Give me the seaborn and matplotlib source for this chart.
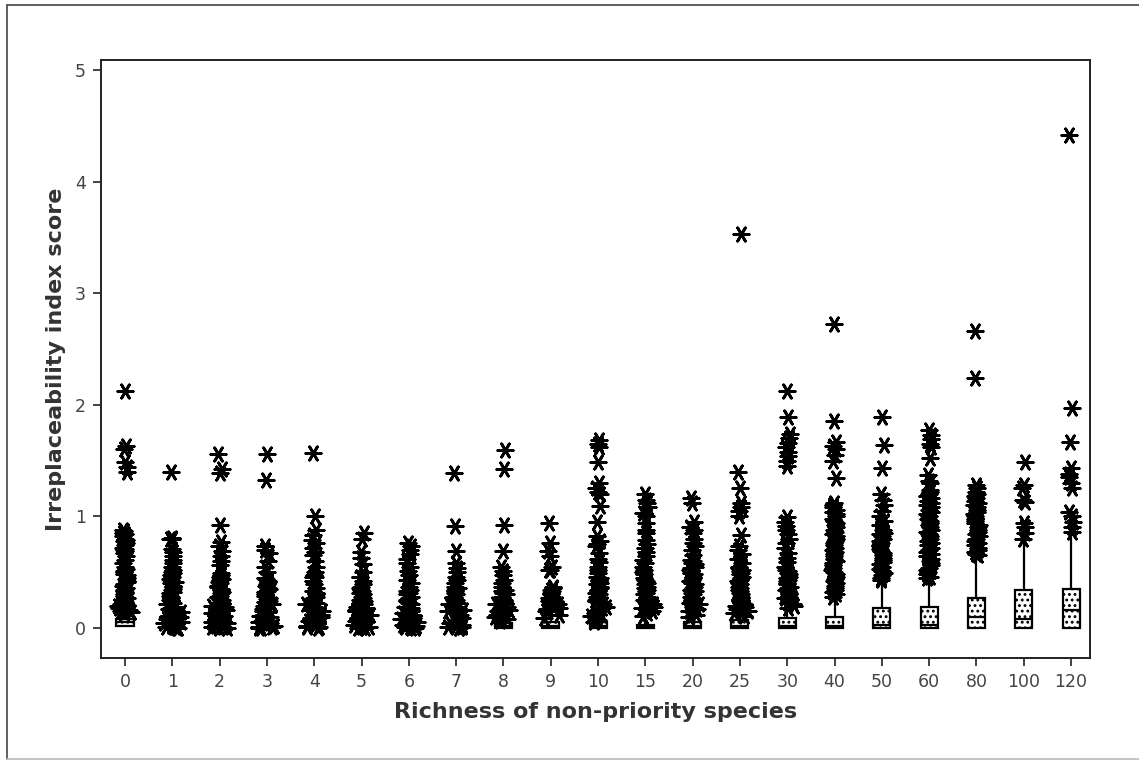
import numpy as np
import pandas as pd
import seaborn as sns
import matplotlib.pyplot as plt
from matplotlib.lines import Line2D

# categories on the x axis
richness = ['0', '1', '2', '3', '4', '5', '6', '7', '8', '9', '10',
            '15', '20', '25', '30', '40', '50', '60', '80', '100', '120']

# box statistics (whisker low, Q1, median, Q3, whisker high)
box_low = [0.02, 0, 0, 0, 0, 0, 0, 0, 0, 0, 0, 0, 0, 0, 0, 0, 0, 0, 0, 0, 0]
box_q1 = [0.02, 0, 0, 0, 0, 0, 0, 0, 0, 0, 0, 0, 0, 0, 0, 0, 0, 0, 0, 0, 0]
box_med = [0.05, 0.01, 0.01, 0.01, 0.01, 0.01, 0.01, 0.01, 0.02, 0.02, 0.02,
           0.01, 0.02, 0.02, 0.02, 0.02, 0.03, 0.03, 0.10, 0.08, 0.16]
box_q3 = [0.08, 0.03, 0.03, 0.03, 0.03, 0.03, 0.03, 0.03, 0.04, 0.05, 0.05,
          0.03, 0.05, 0.07, 0.09, 0.10, 0.18, 0.19, 0.27, 0.34, 0.35]
box_high = [0.10, 0.05, 0.05, 0.05, 0.05, 0.05, 0.05, 0.05, 0.06, 0.08, 0.10,
            0.08, 0.10, 0.15, 0.18, 0.25, 0.40, 0.43, 0.64, 0.77, 0.85]

# outliers (asterisks) per richness class
out_0 = [2.12, 1.63, 1.60, 1.49, 1.44, 1.40, 0.88, 0.87, 0.85, 0.84, 0.82, 0.80, 0.79,
         0.78, 0.76, 0.74, 0.72, 0.71, 0.70, 0.69, 0.67, 0.64, 0.61, 0.58, 0.55, 0.53,
         0.51, 0.50, 0.48, 0.47, 0.45, 0.44, 0.42, 0.41, 0.39, 0.38, 0.36, 0.35, 0.34,
         0.33, 0.32, 0.31, 0.30, 0.29, 0.28, 0.27, 0.26, 0.25, 0.24, 0.23, 0.22, 0.21,
         0.20, 0.19, 0.18, 0.17, 0.16, 0.15, 0.14, 0.13]
out_1 = [1.40, 0.81, 0.80, 0.80, 0.71, 0.68, 0.64, 0.61, 0.58, 0.55, 0.52, 0.50, 0.49,
         0.47, 0.46, 0.44, 0.43, 0.41, 0.40, 0.38, 0.37, 0.35, 0.34, 0.32, 0.31, 0.29,
         0.28, 0.27, 0.25, 0.24, 0.22, 0.21, 0.19, 0.18, 0.17, 0.15, 0.14, 0.12, 0.11,
         0.10, 0.08, 0.07, 0.06, 0.05, 0.04, 0.03, 0.02, 0.01, 0.01, 0.0, 0.0]
out_2 = [1.56, 1.42, 1.39, 0.92, 0.77, 0.73, 0.69, 0.64, 0.60, 0.56, 0.49, 0.47, 0.46,
         0.44, 0.43, 0.41, 0.40, 0.38, 0.37, 0.35, 0.34, 0.32, 0.31, 0.29, 0.28, 0.26,
         0.25, 0.23, 0.22, 0.20, 0.19, 0.17, 0.16, 0.14, 0.13, 0.11, 0.10, 0.09, 0.07,
         0.06, 0.05, 0.04, 0.03, 0.02, 0.01, 0.01, 0.0, 0.0]
out_3 = [1.56, 1.33, 0.73, 0.70, 0.67, 0.60, 0.55, 0.50, 0.45, 0.44, 0.42, 0.41, 0.39,
         0.38, 0.36, 0.35, 0.33, 0.32, 0.30, 0.29, 0.27, 0.26, 0.24, 0.23, 0.21, 0.20,
         0.18, 0.17, 0.15, 0.14, 0.12, 0.11, 0.10, 0.08, 0.07, 0.06, 0.05, 0.04, 0.03,
         0.02, 0.01, 0.01, 0.0, 0.0]
out_4 = [1.57, 1.00, 0.88, 0.83, 0.79, 0.76, 0.72, 0.68, 0.65, 0.60, 0.55, 0.50, 0.47,
         0.46, 0.46, 0.42, 0.39, 0.36, 0.33, 0.31, 0.30, 0.28, 0.27, 0.25, 0.24, 0.22,
         0.21, 0.19, 0.18, 0.16, 0.15, 0.13, 0.12, 0.10, 0.09, 0.08, 0.06, 0.05, 0.04,
         0.03, 0.02, 0.01, 0.01, 0.0]
out_5 = [0.85, 0.80, 0.68, 0.63, 0.57, 0.50, 0.46, 0.46, 0.42, 0.39, 0.37, 0.36, 0.34,
         0.33, 0.31, 0.30, 0.28, 0.27, 0.25, 0.24, 0.22, 0.21, 0.19, 0.18, 0.16, 0.16,
         0.15, 0.13, 0.12, 0.10, 0.09, 0.08, 0.06, 0.05, 0.04, 0.03, 0.02, 0.01, 0.01,
         0.0, 0.0]
out_6 = [0.76, 0.73, 0.70, 0.66, 0.62, 0.58, 0.55, 0.51, 0.47, 0.43, 0.40, 0.37, 0.34,
         0.33, 0.31, 0.30, 0.28, 0.27, 0.25, 0.24, 0.22, 0.21, 0.19, 0.18, 0.16, 0.15,
         0.13, 0.12, 0.10, 0.09, 0.08, 0.06, 0.05, 0.04, 0.03, 0.02, 0.01, 0.01, 0.0, 0.0]
out_7 = [1.39, 0.91, 0.69, 0.58, 0.54, 0.50, 0.46, 0.43, 0.40, 0.37, 0.36, 0.34, 0.33,
         0.31, 0.30, 0.28, 0.27, 0.25, 0.24, 0.22, 0.21, 0.19, 0.18, 0.16, 0.15, 0.13,
         0.12, 0.10, 0.09, 0.08, 0.06, 0.05, 0.04, 0.03, 0.02, 0.01, 0.01, 0.0, 0.0]
out_8 = [1.59, 1.42, 0.92, 0.69, 0.55, 0.51, 0.47, 0.43, 0.40, 0.37, 0.34, 0.33, 0.31,
         0.30, 0.28, 0.27, 0.25, 0.24, 0.22, 0.21, 0.19, 0.18, 0.16, 0.15, 0.13, 0.12,
         0.10, 0.09, 0.08, 0.07, 0.06]
out_9 = [0.94, 0.76, 0.69, 0.64, 0.55, 0.52, 0.52, 0.37, 0.36, 0.34, 0.33, 0.31, 0.30,
         0.28, 0.27, 0.25, 0.24, 0.22, 0.21, 0.20, 0.18, 0.17, 0.15, 0.12, 0.09]
out_10 = [1.68, 1.65, 1.62, 1.49, 1.30, 1.25, 1.22, 1.20, 1.09, 0.95, 0.82, 0.78, 0.75,
          0.73, 0.67, 0.62, 0.59, 0.55, 0.52, 0.49, 0.46, 0.45, 0.43, 0.42, 0.40, 0.39,
          0.37, 0.36, 0.34, 0.33, 0.31, 0.30, 0.28, 0.27, 0.25, 0.24, 0.22, 0.21, 0.19,
          0.18, 0.17, 0.15, 0.13, 0.11, 0.09, 0.07, 0.05]
out_15 = [1.20, 1.15, 1.12, 1.08, 1.03, 1.00, 0.94, 0.88, 0.85, 0.79, 0.75, 0.72, 0.68,
          0.64, 0.61, 0.58, 0.55, 0.52, 0.50, 0.48, 0.45, 0.43, 0.42, 0.40, 0.39, 0.37,
          0.36, 0.34, 0.33, 0.31, 0.30, 0.28, 0.27, 0.25, 0.24, 0.22, 0.21, 0.19, 0.18,
          0.17, 0.15, 0.13, 0.11]
out_20 = [1.16, 1.12, 0.95, 0.90, 0.88, 0.85, 0.80, 0.76, 0.73, 0.70, 0.65, 0.61, 0.60,
          0.58, 0.57, 0.55, 0.54, 0.52, 0.51, 0.49, 0.48, 0.46, 0.45, 0.43, 0.42, 0.40,
          0.39, 0.37, 0.36, 0.34, 0.33, 0.31, 0.30, 0.28, 0.27, 0.25, 0.24, 0.22, 0.21,
          0.19, 0.18, 0.17, 0.15, 0.12, 0.10]
out_25 = [3.53, 1.40, 1.25, 1.12, 1.08, 1.05, 1.00, 0.83, 0.73, 0.70, 0.66, 0.62, 0.58,
          0.55, 0.54, 0.52, 0.51, 0.49, 0.48, 0.46, 0.45, 0.43, 0.42, 0.40, 0.39, 0.37,
          0.36, 0.34, 0.33, 0.31, 0.30, 0.28, 0.27, 0.25, 0.24, 0.22, 0.21, 0.20, 0.19,
          0.17, 0.15, 0.13, 0.11]
out_30 = [2.12, 1.89, 1.74, 1.70, 1.66, 1.62, 1.58, 1.54, 1.50, 1.45, 0.99, 0.95, 0.91,
          0.88, 0.84, 0.80, 0.76, 0.72, 0.67, 0.63, 0.59, 0.55, 0.52, 0.51, 0.49, 0.48,
          0.46, 0.45, 0.43, 0.42, 0.40, 0.39, 0.37, 0.36, 0.34, 0.33, 0.31, 0.30, 0.28,
          0.27, 0.25, 0.24, 0.22, 0.21, 0.20, 0.18]
out_40 = [2.72, 1.85, 1.67, 1.63, 1.60, 1.55, 1.50, 1.34, 1.12, 1.10, 1.08, 1.06, 1.04,
          1.02, 1.00, 0.98, 0.96, 0.94, 0.92, 0.90, 0.88, 0.86, 0.84, 0.82, 0.80, 0.78,
          0.76, 0.74, 0.72, 0.70, 0.68, 0.66, 0.64, 0.62, 0.60, 0.58, 0.56, 0.54, 0.52,
          0.50, 0.48, 0.46, 0.44, 0.42, 0.40, 0.38, 0.36, 0.34, 0.32, 0.30, 0.28]
out_50 = [1.89, 1.64, 1.43, 1.20, 1.15, 1.10, 1.05, 1.00, 0.96, 0.92, 0.88, 0.85, 0.84,
          0.82, 0.80, 0.78, 0.76, 0.74, 0.73, 0.71, 0.69, 0.67, 0.65, 0.63, 0.61, 0.59,
          0.57, 0.55, 0.53, 0.51, 0.49, 0.47, 0.45, 0.43]
out_60 = [1.77, 1.73, 1.69, 1.65, 1.62, 1.52, 1.37, 1.32, 1.30, 1.24, 1.22, 1.20, 1.18,
          1.16, 1.14, 1.12, 1.10, 1.08, 1.06, 1.04, 1.02, 1.00, 0.98, 0.96, 0.94, 0.92,
          0.90, 0.88, 0.86, 0.84, 0.82, 0.80, 0.78, 0.76, 0.74, 0.72, 0.70, 0.68, 0.66,
          0.64, 0.62, 0.60, 0.58, 0.56, 0.54, 0.52, 0.50, 0.48, 0.46, 0.45]
out_80 = [2.66, 2.24, 1.28, 1.25, 1.22, 1.20, 1.18, 1.16, 1.14, 1.12, 1.10, 1.08, 1.06,
          1.04, 1.02, 1.00, 0.98, 0.96, 0.94, 0.92, 0.90, 0.88, 0.86, 0.84, 0.82, 0.80,
          0.78, 0.76, 0.74, 0.72, 0.70, 0.68, 0.66, 0.65]
out_100 = [1.49, 1.28, 1.25, 1.15, 1.13, 0.94, 0.90, 0.85, 0.80]
out_120 = [4.42, 1.97, 1.67, 1.43, 1.38, 1.35, 1.30, 1.25, 1.04, 1.00, 0.95, 0.90, 0.86]

outliers = [out_0, out_1, out_2, out_3, out_4, out_5, out_6, out_7, out_8, out_9, out_10,
            out_15, out_20, out_25, out_30, out_40, out_50, out_60, out_80, out_100, out_120]

# tables for seaborn
box_rows = []
for i, r in enumerate(richness):
    for v in (box_low[i], box_q1[i], box_med[i], box_q3[i], box_high[i]):
        box_rows.append((r, v))
box_df = pd.DataFrame(box_rows, columns=['richness', 'score'])

out_rows = [(r, v) for r, vals in zip(richness, outliers) for v in vals]
out_df = pd.DataFrame(out_rows, columns=['richness', 'score'])
base_df = out_df[out_df.score < 0.22]
upper_df = out_df[out_df.score >= 0.22]

sns.set_style('ticks')
plt.rcParams['font.family'] = ['DejaVu Sans']
plt.rcParams['hatch.color'] = 'black'
plt.rcParams['hatch.linewidth'] = 1.3

fig = plt.figure(figsize=(11.39, 7.61), dpi=100)
ax = fig.add_axes([0.0887, 0.1353, 0.8683, 0.7859])

sns.boxplot(data=box_df, x='richness', y='score', order=richness, whis=(0, 100),
            width=0.36, color='white', linecolor='black', linewidth=1.6,
            showcaps=False, showfliers=False, ax=ax)
for p in ax.patches:
    p.set_hatch('...')
    p.set_facecolor('white')

ast = (6, 2, 30)
np.random.seed(3)
sns.stripplot(data=upper_df, x='richness', y='score', order=richness, jitter=0.05,
              marker=ast, size=11, color='black', linewidth=2.0, ax=ax)
sns.stripplot(data=base_df, x='richness', y='score', order=richness, jitter=0.18,
              marker=ast, size=11, color='black', linewidth=2.0, ax=ax)

ax.set_xlim(-0.507, 20.4)
ax.set_ylim(-0.27, 5.09)
ax.set_yticks([0, 1, 2, 3, 4, 5])
for s in ax.spines.values():
    s.set_visible(True)
    s.set_color('#222222')
    s.set_linewidth(1.4)
ax.tick_params(length=6, width=1.2, color='#222222', labelcolor='#444444',
               labelsize=12.5, pad=5)

ax.set_xlabel('Richness of non-priority species', fontsize=16, fontweight='bold',
              color='#333333', labelpad=8)
ax.set_ylabel('Irreplaceability index score', fontsize=16, fontweight='bold',
              color='#333333', labelpad=6)

# outer frame of the figure
W, H = 1139, 761
fig.add_artist(Line2D([7 / W, 7 / W], [1 - 5 / H, 1 - 759 / H], color='#444444', lw=1.2))
fig.add_artist(Line2D([7 / W, 1], [1 - 5 / H, 1 - 5 / H], color='#444444', lw=1.2))
fig.add_artist(Line2D([7 / W, 1], [1 - 759 / H, 1 - 759 / H], color='#bbbbbb', lw=1.2))

fig.savefig('out.png', dpi=100)
